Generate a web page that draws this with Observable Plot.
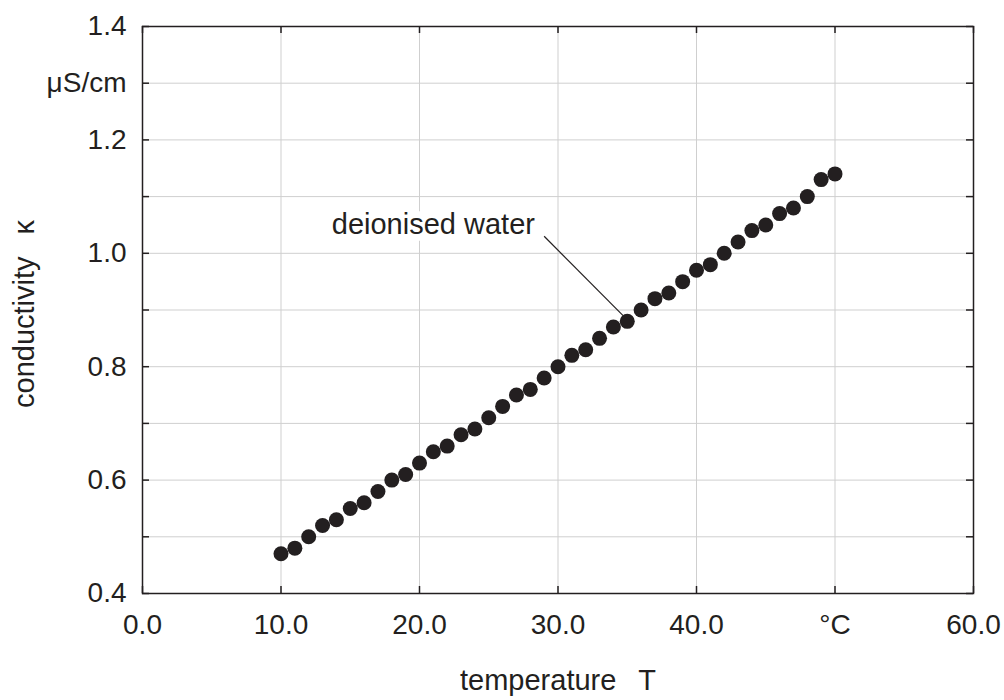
<!DOCTYPE html>
<html><head><meta charset="utf-8">
<script src="https://cdn.jsdelivr.net/npm/d3@7"></script>
<script src="https://cdn.jsdelivr.net/npm/@observablehq/plot@0.6"></script>
<style>body{margin:0;background:#fff}svg{font-family:"Liberation Sans",Arial,sans-serif}</style>
</head><body><div id="chart"></div>
<script>
const temperature = [10,11,12,13,14,15,16,17,18,19,20,21,22,23,24,25,26,27,28,29,30,31,32,33,34,35,36,37,38,39,40,41,42,43,44,45,46,47,48,49,50];
const conductivity = [0.47,0.48,0.50,0.52,0.53,0.55,0.56,0.58,0.60,0.61,0.63,0.65,0.66,0.68,0.69,0.71,0.73,0.75,0.76,0.78,0.80,0.82,0.83,0.85,0.87,0.88,0.90,0.92,0.93,0.95,0.97,0.98,1.00,1.02,1.04,1.05,1.07,1.08,1.10,1.13,1.14];
const xTicks = [0,10,20,30,40,50,60];
const xTickLabels = ["0.0","10.0","20.0","30.0","40.0","°C","60.0"];
const yTicks = [0.4,0.5,0.6,0.7,0.8,0.9,1.0,1.1,1.2,1.3,1.4];
const yLabelTicks = [0.4,0.6,0.8,1.0,1.2,1.3,1.4];
const yTickLabels = ["0.4","0.6","0.8","1.0","1.2","μS/cm","1.4"];
const xTitle = "temperature\u00a0\u00a0\u2009T";
const yTitle = "conductivity\u00a0\u00a0\u2009κ";
const annotationText = ["deionised water"];
const annotationX = [21];
const annotationY = [1.05];
const leaderStart = [29, 1.03];
const leaderEnd = [34.7, 0.89];

const ink = "#231f20";
const W = 1004, H = 700;
const mL = 142, mR = 31, mT = 26, mB = 107;
const pw = W - mL - mR, ph = H - mT - mB;
const tickLen = 7;

const points = temperature.map((t, i) => ({t, k: conductivity[i]}));
const xFmt = d => xTickLabels[xTicks.indexOf(d)];
const yFmt = d => yTickLabels[yLabelTicks.findIndex(v => Math.abs(v - d) < 1e-9)];

const chart = Plot.plot({
  width: W, height: H,
  marginLeft: mL, marginRight: mR, marginTop: mT, marginBottom: mB,
  style: {fontFamily: '"Liberation Sans", Arial, sans-serif', background: "white", color: ink},
  x: {domain: [0, 60]},
  y: {domain: [0.4, 1.4]},
  marks: [
    Plot.gridX(xTicks, {stroke: "#cfcfcf", strokeOpacity: 1, strokeWidth: 1}),
    Plot.gridY(yTicks, {stroke: "#cfcfcf", strokeOpacity: 1, strokeWidth: 1}),
    Plot.tickY(yTicks, {y: d => d, insetRight: pw - tickLen, stroke: ink, strokeWidth: 1.5}),
    Plot.tickY(yTicks, {y: d => d, insetLeft: pw - tickLen, stroke: ink, strokeWidth: 1.5}),
    Plot.tickX(xTicks, {x: d => d, insetTop: ph - tickLen, stroke: ink, strokeWidth: 1.5}),
    Plot.tickX(xTicks, {x: d => d, insetBottom: ph - tickLen, stroke: ink, strokeWidth: 1.5}),
    Plot.frame({stroke: ink, strokeWidth: 1.5}),
    Plot.axisX({ticks: xTicks, tickFormat: xFmt, tickSize: 0, tickPadding: 21, fontSize: 28, fill: ink, label: null}),
    Plot.axisY({ticks: yLabelTicks, tickFormat: yFmt, tickSize: 0, tickPadding: 16, fontSize: 28, fill: ink, label: null}),
    Plot.text(annotationText, {x: annotationX, y: annotationY, text: d => d, fontSize: 29, fill: ink, stroke: "white", strokeWidth: 14, paintOrder: "stroke", strokeLinejoin: "round"}),
    Plot.link([0], {x1: leaderStart[0], y1: leaderStart[1], x2: leaderEnd[0], y2: leaderEnd[1], stroke: ink, strokeWidth: 1.2}),
    Plot.dot(points, {x: "t", y: "k", r: 7.5, fill: ink, stroke: "none"}),
    Plot.text([xTitle], {frameAnchor: "bottom", dy: 96, text: d => d, fontSize: 29, fill: ink}),
    Plot.text([yTitle], {frameAnchor: "left", textAnchor: "middle", dx: -118, dy: 4, rotate: -90, text: d => d, fontSize: 29, fill: ink})
  ]
});
document.getElementById("chart").appendChild(chart);
</script>
</body></html>
